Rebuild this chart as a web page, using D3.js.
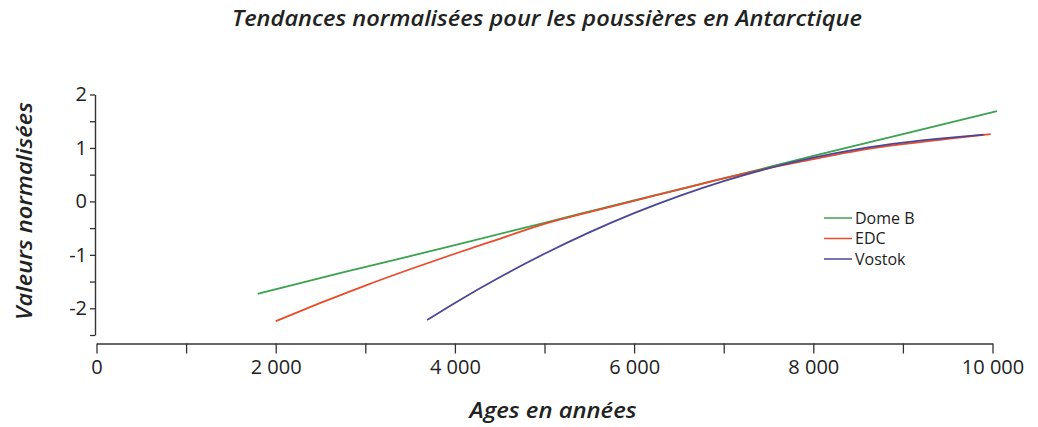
<!DOCTYPE html>
<html>
<head>
<meta charset="utf-8">
<script src="https://cdn.jsdelivr.net/npm/d3@7"></script>
<style>
  html, body { margin: 0; padding: 0; background: #fff; }
  svg { display: block; }
  text { font-family: "Open Sans", "Noto Sans", sans-serif; fill: #222; }
</style>
</head>
<body>
<svg id="chart" width="1038" height="427"></svg>
<script>
// ---- data ----
const domeBYears  = [1800, 2750, 4000, 5000, 6000, 7000, 8000, 9000, 10050];
const domeBValues = [-1.73, -1.33, -0.82, -0.40, 0.02, 0.43, 0.85, 1.26, 1.69];

const edcYears  = [2000, 2500, 3000, 3500, 4000, 4500, 5000, 5500, 6000, 6500, 7000, 7500, 8000, 8500, 9000, 9500, 9980];
const edcValues = [-2.24, -1.90, -1.575, -1.27, -0.98, -0.70, -0.42, -0.20, 0.01, 0.22, 0.43, 0.62, 0.79, 0.95, 1.07, 1.17, 1.26];

const vostokYears  = [3690, 4000, 4500, 5000, 5500, 6000, 6500, 7000, 7500, 8000, 8500, 9000, 9500, 9900];
const vostokValues = [-2.22, -1.90, -1.42, -0.98, -0.58, -0.22, 0.10, 0.38, 0.62, 0.82, 0.98, 1.10, 1.19, 1.25];

const seriesNames = ["Dome B", "EDC", "Vostok"];
const xTicks = [0, 1000, 2000, 3000, 4000, 5000, 6000, 7000, 8000, 9000, 10000];
const xTickLabels = ["0", "", "2 000", "", "4 000", "", "6 000", "", "8 000", "", "10 000"];
const yTicks = [-2.5, -2, -1.5, -1, -0.5, 0, 0.5, 1, 1.5, 2];
const yTickLabels = ["", "-2", "", "-1", "", "0", "", "1", "", "2"];

const chartTitle = "Tendances normalisées pour les poussières en Antarctique";
const xTitle = "Ages en années";
const yTitle = "Valeurs normalisées";

// ---- drawing ----
const svg = d3.select("#chart");
const colors = ["#3aa251", "#ea4b2b", "#4a4797"];

const x = d3.scaleLinear().domain([0, 10000]).range([96.5, 992.5]);
const y = d3.scaleLinear().domain([-2.5, 2]).range([335, 94.5]);

// x axis
const xAxis = d3.axisBottom(x)
  .tickValues(xTicks)
  .tickFormat((d, i) => xTickLabels[i])
  .tickSize(10)
  .tickSizeOuter(0)
  .tickPadding(6);
const gx = svg.append("g").attr("transform", "translate(0,343.5)").call(xAxis);
gx.select(".domain").attr("stroke", "#333").attr("stroke-width", 1.4);
gx.selectAll(".tick line").attr("stroke", "#333").attr("stroke-width", 1.3);
gx.selectAll(".tick text").style("font-size", "20px").attr("fill", "#222");

// y axis
const yAxis = d3.axisLeft(y)
  .tickValues(yTicks)
  .tickFormat((d, i) => yTickLabels[i])
  .tickSize(5)
  .tickSizeOuter(0)
  .tickPadding(3);
const gy = svg.append("g").attr("transform", "translate(95,0)").call(yAxis);
gy.select(".domain").attr("stroke", "#333").attr("stroke-width", 1.4);
gy.selectAll(".tick line").attr("stroke", "#333").attr("stroke-width", 1.3);
gy.selectAll(".tick text").style("font-size", "20px").attr("fill", "#222").attr("dy", "0.32em");

// lines
const allSeries = [
  { name: seriesNames[0], xs: domeBYears, ys: domeBValues },
  { name: seriesNames[1], xs: edcYears, ys: edcValues },
  { name: seriesNames[2], xs: vostokYears, ys: vostokValues }
];
const line = d3.line()
  .x(d => x(d[0]))
  .y(d => y(d[1]))
  .curve(d3.curveMonotoneX);

allSeries.forEach((s, i) => {
  svg.append("path")
    .datum(s.xs.map((v, j) => [v, s.ys[j]]))
    .attr("fill", "none")
    .attr("stroke", colors[i])
    .attr("stroke-width", 1.8)
    .attr("d", line);
});

// legend
const legend = svg.append("g").attr("transform", "translate(824,218)");
seriesNames.forEach((n, i) => {
  const g = legend.append("g").attr("transform", `translate(0,${i * 20.5})`);
  g.append("line").attr("x1", 0).attr("x2", 28).attr("y1", 0).attr("y2", 0)
    .attr("stroke", colors[i]).attr("stroke-width", 1.5);
  g.append("text").attr("x", 31).attr("y", 5.5).style("font-size", "16px").text(n);
});

// titles
svg.append("text")
  .attr("x", 547).attr("y", 26)
  .attr("text-anchor", "middle")
  .style("font-size", "21px").style("font-style", "italic").style("font-weight", "600")
  .attr("textLength", 630).attr("lengthAdjust", "spacingAndGlyphs")
  .text(chartTitle);

svg.append("text")
  .attr("x", 553).attr("y", 418)
  .attr("text-anchor", "middle")
  .style("font-size", "22px").style("font-style", "italic").style("font-weight", "600")
  .attr("textLength", 167).attr("lengthAdjust", "spacingAndGlyphs")
  .text(xTitle);

svg.append("text")
  .attr("transform", "translate(32,211) rotate(-90)")
  .attr("text-anchor", "middle")
  .style("font-size", "22px").style("font-style", "italic").style("font-weight", "600")
  .attr("textLength", 218).attr("lengthAdjust", "spacingAndGlyphs")
  .text(yTitle);
</script>
</body>
</html>
